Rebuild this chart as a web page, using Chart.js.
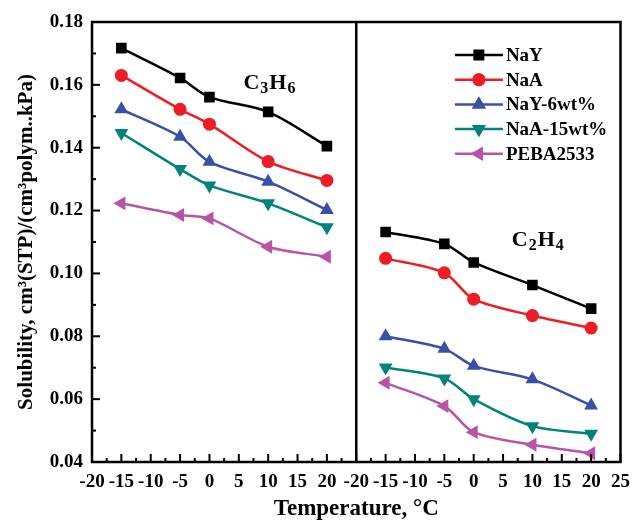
<!DOCTYPE html>
<html>
<head>
<meta charset="utf-8">
<script src="https://cdn.jsdelivr.net/npm/chart.js@4.4.1/dist/chart.umd.min.js"></script>
<style>
  html, body { margin: 0; padding: 0; background: #fff; }
  #wrap { width: 639px; height: 523px; }
</style>
</head>
<body>
<div id="wrap"><canvas id="solChart" width="639" height="523"></canvas></div>
<script>
// temperatures (°C) shared by both gases
const temps = [-15, -5, 0, 10, 20];
const seriesNames = ['NaY', 'NaA', 'NaY-6wt%', 'NaA-15wt%', 'PEBA2533'];

// C3H6 panel (left)
const c3h6_NaY   = [0.1717, 0.1622, 0.1561, 0.1514, 0.1405];
const c3h6_NaA   = [0.1630, 0.1522, 0.1475, 0.1356, 0.1296];
const c3h6_NaY6  = [0.1522, 0.1435, 0.1355, 0.1292, 0.1202];
const c3h6_NaA15 = [0.1447, 0.1332, 0.1280, 0.1223, 0.1147];
const c3h6_PEBA  = [0.1223, 0.1186, 0.1175, 0.1085, 0.1053];

// C2H4 panel (right)
const c2h4_NaY   = [0.1132, 0.1094, 0.1035, 0.0963, 0.0888];
const c2h4_NaA   = [0.1048, 0.1002, 0.0918, 0.0866, 0.0826];
const c2h4_NaY6  = [0.0800, 0.0760, 0.0706, 0.0663, 0.0580];
const c2h4_NaA15 = [0.0701, 0.0666, 0.0600, 0.0514, 0.0490];
const c2h4_PEBA  = [0.0652, 0.0578, 0.0495, 0.0455, 0.0428];

const xTicks = [-20, -15, -10, -5, 0, 5, 10, 15, 20, 25];
const yTicks = [0.04, 0.06, 0.08, 0.10, 0.12, 0.14, 0.16, 0.18];

// right panel is drawn on the same axis shifted by one panel width
const panelSpan = 45;

const colors = ['#000000', '#ee1c24', '#3a4fa6', '#00837b', '#b854a8'];
const markers = [
    { style: 'rect', rot: 0, r: 7.5 },
    { style: 'circle', rot: 0, r: 6.5 },
    { style: 'triangle', rot: 0, r: 8 },
    { style: 'triangle', rot: 180, r: 8 },
    { style: 'triangle', rot: 270, r: 8 }
];

const leftSets = [c3h6_NaY, c3h6_NaA, c3h6_NaY6, c3h6_NaA15, c3h6_PEBA];
const rightSets = [c2h4_NaY, c2h4_NaA, c2h4_NaY6, c2h4_NaA15, c2h4_PEBA];

function makeDs(vals, i, shift) {
    return {
        label: seriesNames[i],
        data: temps.map((t, k) => ({ x: t + shift, y: vals[k] })),
        borderColor: colors[i],
        backgroundColor: colors[i],
        borderWidth: 2.5,
        pointStyle: markers[i].style,
        pointRotation: markers[i].rot,
        pointRadius: markers[i].r,
        pointHoverRadius: markers[i].r,
        pointBorderWidth: 0,
        tension: 0.3
    };
}

const datasets = [];
leftSets.forEach((v, i) => datasets.push(makeDs(v, i, 0)));
rightSets.forEach((v, i) => datasets.push(makeDs(v, i, panelSpan)));

const FONT = '"Liberation Serif", "Times New Roman", serif';

function drawChem(ctx, parts, cx, cy) {
    // parts: [text, isSub]
    const big = 'bold 22px ' + FONT, small = 'bold 16px ' + FONT;
    let w = 0;
    parts.forEach(p => { ctx.font = p[1] ? small : big; w += ctx.measureText(p[0]).width + 1; });
    let x = cx - w / 2;
    ctx.textBaseline = 'middle';
    ctx.textAlign = 'left';
    parts.forEach(p => {
        ctx.font = p[1] ? small : big;
        ctx.fillText(p[0], x, p[1] ? cy + 6 : cy);
        x += ctx.measureText(p[0]).width + 1;
    });
}

const framePlugin = {
    id: 'frame',
    afterDraw(chart) {
        const { ctx, chartArea: a, scales } = chart;
        const xs = scales.x, ys = scales.y;
        ctx.save();
        ctx.strokeStyle = '#000';
        ctx.lineWidth = 2.5;
        ctx.strokeRect(a.left, a.top, a.right - a.left, a.bottom - a.top);
        const xd = xs.getPixelForValue(xTicks[xTicks.length - 1]);
        ctx.beginPath();
        ctx.moveTo(xd, a.top);
        ctx.lineTo(xd, a.bottom);
        ctx.stroke();

        // inward ticks on bottom axis (major + minor)
        ctx.lineWidth = 2;
        for (let v = -20; v <= 70; v += 2.5) {
            const px = xs.getPixelForValue(v);
            const len = (v % 5 === 0) ? 8 : 4;
            ctx.beginPath();
            ctx.moveTo(px, a.bottom);
            ctx.lineTo(px, a.bottom - len);
            ctx.stroke();
        }
        // inward ticks on left axis
        for (let k = 0; k <= 14; k++) {
            const v = 0.04 + k * 0.01;
            const py = ys.getPixelForValue(v);
            const len = (k % 2 === 0) ? 8 : 4;
            ctx.beginPath();
            ctx.moveTo(a.left, py);
            ctx.lineTo(a.left + len, py);
            ctx.stroke();
        }

        // gas labels
        ctx.fillStyle = '#000';
        drawChem(ctx, [['C', false], ['3', true], ['H', false], ['6', true]],
            xs.getPixelForValue(10.3), ys.getPixelForValue(0.1606));
        drawChem(ctx, [['C', false], ['2', true], ['H', false], ['4', true]],
            xs.getPixelForValue(11 + panelSpan), ys.getPixelForValue(0.1106));

        // legend inside right panel
        const lx = xs.getPixelForValue(-3.2 + panelSpan);
        const ly = ys.getPixelForValue(0.1695);
        seriesNames.forEach((name, i) => {
            const y = ly + i * 24.7;
            ctx.strokeStyle = colors[i];
            ctx.fillStyle = colors[i];
            ctx.lineWidth = 2.5;
            ctx.beginPath();
            ctx.moveTo(lx, y);
            ctx.lineTo(lx + 48, y);
            ctx.stroke();
            Chart.helpers.drawPoint(ctx, {
                pointStyle: markers[i].style,
                rotation: markers[i].rot,
                radius: markers[i].r,
                borderWidth: 0
            }, lx + 24, y);
            ctx.fill();
            ctx.fillStyle = '#000';
            ctx.font = 'bold 19px ' + FONT;
            ctx.textAlign = 'left';
            ctx.textBaseline = 'middle';
            ctx.fillText(name, lx + 51, y + 1);
        });
        ctx.restore();
    }
};

const ctx = document.getElementById('solChart').getContext('2d');
new Chart(ctx, {
    type: 'line',
    data: { datasets: datasets },
    plugins: [framePlugin],
    options: {
        responsive: false,
        animation: false,
        layout: { padding: { top: 22, right: 11, left: 0, bottom: 0 } },
        plugins: { legend: { display: false }, tooltip: { enabled: false } },
        scales: {
            x: {
                type: 'linear',
                min: -20,
                max: 70,
                afterFit: s => { s.height = 61; },
                afterBuildTicks: s => {
                    s.ticks = [];
                    for (let v = -20; v <= 70; v += 5) s.ticks.push({ value: v });
                },
                grid: { display: false, drawTicks: false },
                border: { display: false },
                ticks: {
                    padding: 9,
                    color: '#000',
                    font: { family: FONT, size: 19, weight: 'bold' },
                    maxRotation: 0,
                    autoSkip: false,
                    callback: v => (v < 25 ? v : v - panelSpan).toString()
                },
                title: {
                    display: true,
                    text: 'Temperature, \u00B0C',
                    color: '#000',
                    font: { family: FONT, size: 23, weight: 'bold' },
                    padding: { top: 2, bottom: 0 }
                }
            },
            y: {
                min: 0.04,
                max: 0.18,
                afterFit: s => { s.width = 92; },
                afterBuildTicks: s => { s.ticks = yTicks.map(v => ({ value: v })); },
                grid: { display: false, drawTicks: false },
                border: { display: false },
                ticks: {
                    padding: 9,
                    color: '#000',
                    font: { family: FONT, size: 19, weight: 'bold' },
                    callback: v => v.toFixed(2)
                },
                title: {
                    display: true,
                    text: 'Solubility, cm\u00B3(STP)/(cm\u00B3polym..kPa)',
                    color: '#000',
                    font: { family: FONT, size: 21, weight: 'bold' },
                    padding: { top: 14, bottom: 0 }
                }
            }
        }
    }
});
</script>
</body>
</html>
